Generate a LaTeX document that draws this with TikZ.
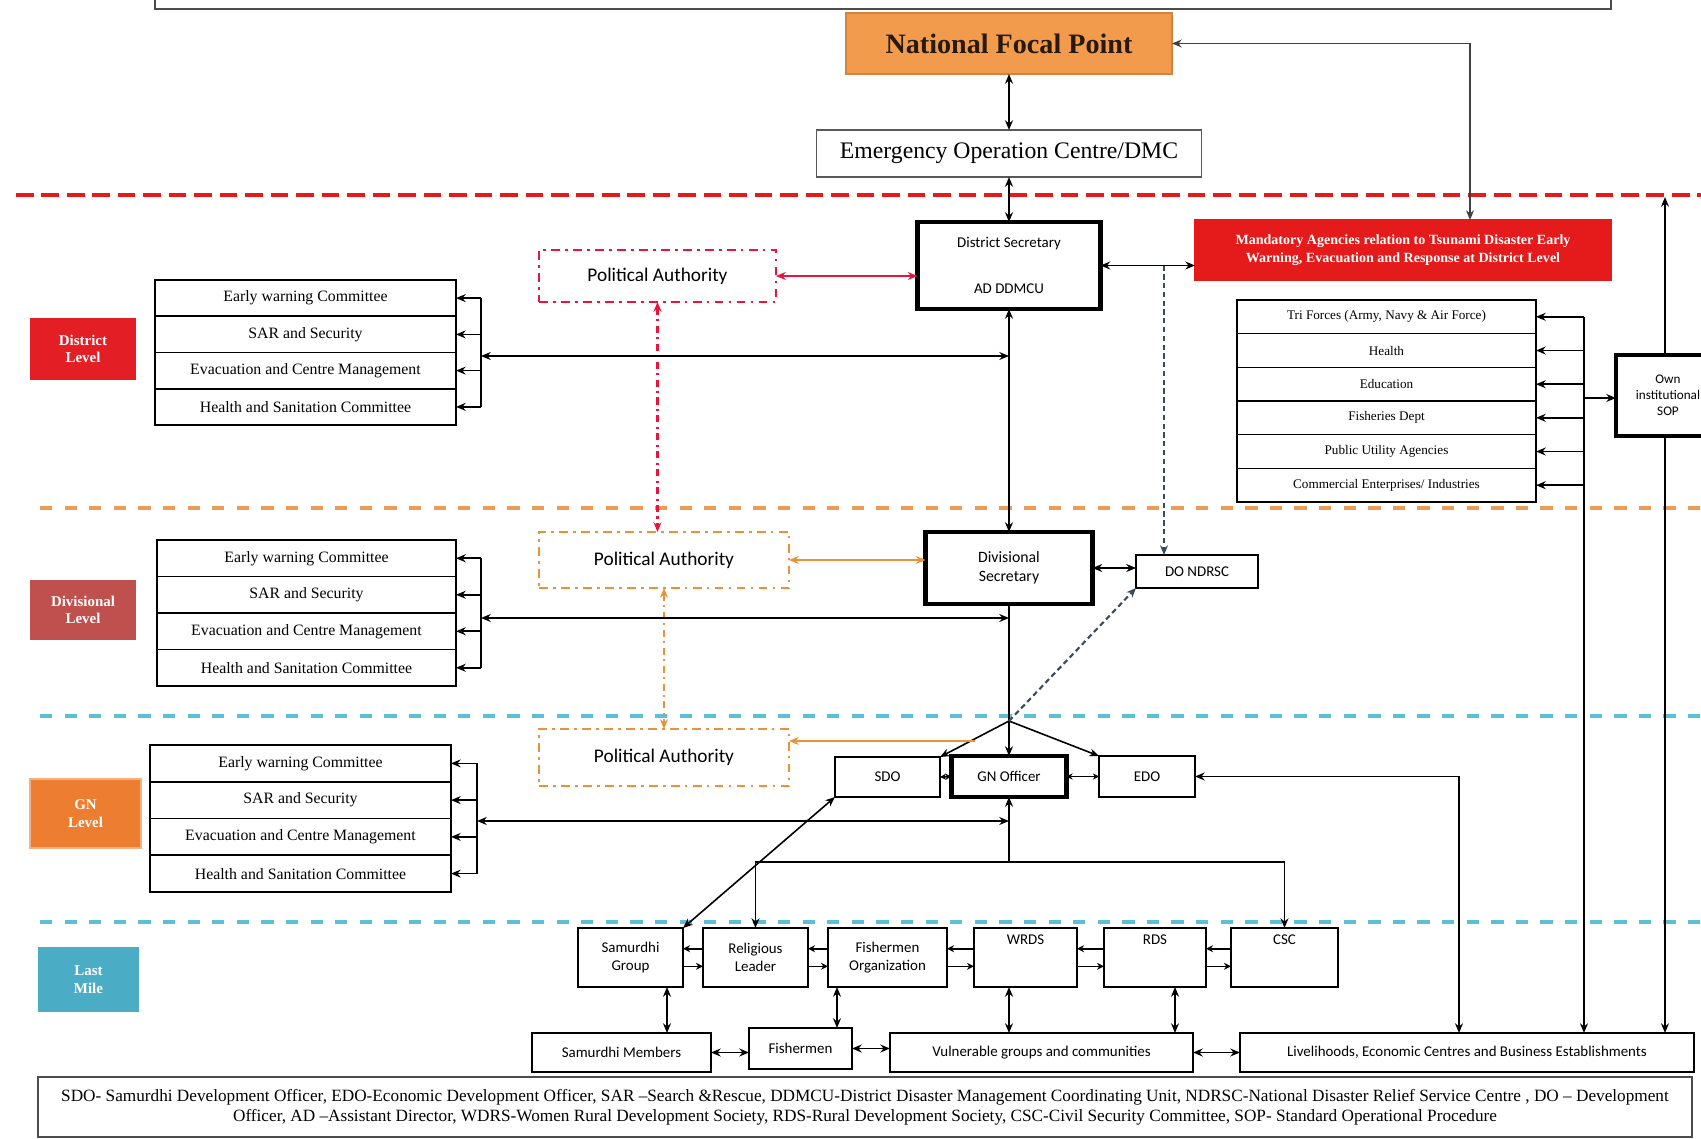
\documentclass[tikz,border=0pt]{standalone}
\usepackage{fontspec}
\setmainfont{Liberation Serif}
\newfontfamily\cf{Carlito}
\usetikzlibrary{arrows.meta,calc}
\definecolor{lred}{HTML}{E51A1A}
\definecolor{pared}{HTML}{E8143C}
\definecolor{paor}{HTML}{E8923A}
\definecolor{orsep}{HTML}{EE9C55}
\definecolor{cysep}{HTML}{5BC0D6}
\definecolor{lvred}{HTML}{E31E24}
\definecolor{lvbrown}{HTML}{C0504D}
\definecolor{lvorange}{HTML}{ED7D31}
\definecolor{lvblue}{HTML}{4BACC6}
\definecolor{nfpor}{HTML}{F39B4C}
\definecolor{dkblue}{HTML}{3A4A5C}
\begin{document}
\begin{tikzpicture}[x=0.02cm,y=-0.02cm,
  >={Stealth[length=5.5pt,width=4.5pt]},
  line width=0.9pt,
  sz/.style 2 args={minimum width=#1*0.02cm,minimum height=#2*0.02cm},
  box/.style={draw,fill=white,inner sep=0pt,outer sep=0pt,align=center,line width=0.9pt},
  thickbox/.style={box,line width=2.4pt},
  comm/.style={box,font=\fontsize{9}{10}\selectfont},
  sect/.style={box,font=\fontsize{7.5}{8}\selectfont},
  lm/.style={box,font=\cf\fontsize{8.5}{10}\selectfont},
  lvl/.style={inner sep=0pt,outer sep=0pt,align=center,text=white,font=\bfseries\fontsize{8.5}{10}\selectfont},
  pabox/.style={inner sep=0pt,outer sep=0pt,align=center,fill=white,line width=1.4pt,dash pattern=on 5pt off 3pt on 1.5pt off 3pt,font=\cf\fontsize{11}{12}\selectfont},
  dashdot/.style={line width=1.3pt,dash pattern=on 4pt off 2.5pt on 1.2pt off 2.5pt},
  small/.style={{Stealth[length=3.5pt,width=3.5pt]}-{Stealth[length=3.5pt,width=3.5pt]}},
  sm1/.style={-{Stealth[length=4pt,width=4pt]}},
]
\useasboundingbox (0,0) rectangle (1701,1139);
\clip (0,0) rectangle (1701,1139);
\fill[white] (0,0) rectangle (1701,1139);

% top frame
\draw[gray!60!black,line width=1pt] (155,-20) rectangle (1611,9);

% separators
\draw[lred,line width=2.8pt,dash pattern=on 10pt off 4.5pt] (16,195) -- (1701,195);
\draw[orsep,line width=1.8pt,dash pattern=on 7pt off 7pt] (40,508) -- (1701,508);
\draw[cysep,line width=1.8pt,dash pattern=on 7pt off 7pt] (40,716) -- (1701,716);
\draw[cysep,line width=1.8pt,dash pattern=on 7pt off 7pt] (40,922) -- (1701,922);

% top nodes
\node[box,sz={326}{61},fill=nfpor,draw=nfpor!85!black,text=black!80!brown,font=\bfseries\fontsize{16}{18}\selectfont] (nfp) at (1009,43.5) {National Focal Point};
\node[box,sz={385}{47},draw=gray!70!black,font=\fontsize{13.5}{15}\selectfont] (eoc) at (1009,153.5) {Emergency Operation Centre/DMC};
\node[thickbox,sz={183}{87},font=\cf\fontsize{8.5}{10}\selectfont] (ds) at (1009,265.5) {District Secretary\\[16pt]AD DDMCU};
\node[box,sz={416}{60},fill=lred,draw=lred,text=white,font=\bfseries\fontsize{8}{10}\selectfont] (mand) at (1403,250) {Mandatory Agencies relation to Tsunami Disaster Early\\Warning, Evacuation and Response at District Level};

% political authorities
\node[pabox,draw=pared,sz={237}{52}] (pa1) at (657.5,276) {Political Authority};
\node[pabox,draw=paor,sz={250}{56}] (pa2) at (664,560) {Political Authority};
\node[pabox,draw=paor,sz={250}{57}] (pa3) at (664,757.5) {Political Authority};

% level labels
\node[lvl,fill=lvred,sz={106}{62}] (ld) at (83,349) {District\\Level};
\node[lvl,fill=lvbrown,sz={106}{60}] (ldv) at (83,610) {Divisional\\Level};
\node[lvl,fill=lvorange,draw=lvorange!60!white,line width=1.5pt,sz={111}{69}] (lgn) at (85.5,813.5) {GN\\Level};
\node[lvl,fill=lvblue,sz={101}{65}] (llm) at (88.5,979.5) {Last\\Mile};

% committees district
\node[comm,sz={301}{36.25}] (dc1) at (305.5,298.1) {Early warning Committee};
\node[comm,sz={301}{36.25}] (dc2) at (305.5,334.4) {SAR and Security};
\node[comm,sz={301}{36.25}] (dc3) at (305.5,370.6) {Evacuation and Centre Management};
\node[comm,sz={301}{36.25}] (dc4) at (305.5,406.9) {Health and Sanitation Committee};
% committees divisional
\node[comm,sz={299}{36.5}] (vc1) at (306.5,558.25) {Early warning Committee};
\node[comm,sz={299}{36.5}] (vc2) at (306.5,594.75) {SAR and Security};
\node[comm,sz={299}{36.5}] (vc3) at (306.5,631.25) {Evacuation and Centre Management};
\node[comm,sz={299}{36.5}] (vc4) at (306.5,667.75) {Health and Sanitation Committee};
% committees GN
\node[comm,sz={301}{36.75}] (gc1) at (300.5,763.4) {Early warning Committee};
\node[comm,sz={301}{36.75}] (gc2) at (300.5,800.1) {SAR and Security};
\node[comm,sz={301}{36.75}] (gc3) at (300.5,836.9) {Evacuation and Centre Management};
\node[comm,sz={301}{36.75}] (gc4) at (300.5,873.6) {Health and Sanitation Committee};

% divisional nodes
\node[thickbox,sz={167}{72},font=\cf\fontsize{9}{11}\selectfont] (divsec) at (1009,568) {Divisional\\Secretary};
\node[box,sz={122}{33},font=\cf\fontsize{8.5}{10}\selectfont] (donrdsc) at (1197,571.5) {DO NDRSC};

% GN nodes
\node[box,sz={105}{40},font=\cf\fontsize{8.5}{10}\selectfont] (sdo) at (887.5,777) {SDO};
\node[thickbox,sz={115}{41},font=\cf\fontsize{8.5}{10}\selectfont] (gn) at (1009,776.5) {GN Officer};
\node[box,sz={96}{41},font=\cf\fontsize{8.5}{10}\selectfont] (edo) at (1147,776.5) {EDO};

% sector nodes
\node[sect,sz={299}{33.67}] (s1) at (1386.5,316.8) {Tri Forces (Army, Navy \& Air Force)};
\node[sect,sz={299}{33.67}] (s2) at (1386.5,350.5) {Health};
\node[sect,sz={299}{33.67}] (s3) at (1386.5,384.2) {Education};
\node[sect,sz={299}{33.67}] (s4) at (1386.5,417.8) {Fisheries Dept};
\node[sect,sz={299}{33.67}] (s5) at (1386.5,451.5) {Public Utility Agencies};
\node[sect,sz={299}{33.67}] (s6) at (1386.5,485.2) {Commercial Enterprises/ Industries};
\node[thickbox,sz={104}{81},font=\cf\fontsize{7.5}{9}\selectfont] (sop) at (1668,395.5) {Own\\institutional\\SOP};

% last mile row
\node[lm,sz={105}{59}] (sg) at (630.5,957.5) {Samurdhi\\Group};
\node[lm,sz={105}{59}] (rl) at (755.5,957.5) {Religious\\Leader};
\node[lm,sz={119}{59}] (fo) at (887.5,957.5) {Fishermen\\Organization};
\node[lm,sz={103}{59}] (wrds) at (1025.5,957.5) {WRDS\\[10pt]};
\node[lm,sz={102}{59}] (rds) at (1155,957.5) {RDS\\[10pt]};
\node[lm,sz={107}{59}] (csc) at (1284.5,957.5) {CSC\\[10pt]};

% bottom row
\node[lm,sz={179}{39}] (sm) at (621.5,1052.5) {Samurdhi Members};
\node[lm,sz={103}{41}] (fi) at (800.5,1048.5) {Fishermen};
\node[lm,sz={303}{39}] (vg) at (1041.5,1052.5) {Vulnerable groups and communities};
\node[lm,sz={454}{39}] (lv) at (1467,1052.5) {Livelihoods, Economic Centres and Business Establishments};

% footer
\node[box,sz={1654}{60},draw=gray!60!black,font=\fontsize{9.8}{11.5}\selectfont] (foot) at (865,1107) {SDO- Samurdhi Development Officer, EDO-Economic Development Officer, SAR --Search \&Rescue, DDMCU-District Disaster Management Coordinating Unit, NDRSC-National Disaster Relief Service Centre , DO -- Development\\Officer, AD --Assistant Director, WDRS-Women Rural Development Society, RDS-Rural Development Society, CSC-Civil Security Committee, SOP- Standard Operational Procedure};

% ---- connectors ----
\coordinate (xN) at (1470,0);
\draw[<->,gray!50!black] (nfp.east) -- (nfp.east -| xN) -- (mand.north -| xN);
\draw[<->] (nfp.south) -- (eoc.north);
\draw[<->] (eoc.south) -- (ds.north);
\draw[<->] (ds.east) -- (ds.east -| mand.west);
\coordinate (xD) at (1164,0);
\draw[->,dkblue,line width=1.2pt,dash pattern=on 3pt off 2pt] (ds.east -| xD) -- (donrdsc.north -| xD);
\draw[<->] (ds.south) -- (divsec.north);
\draw[<->] (divsec.east) -- (divsec.east -| donrdsc.west);

% political authority links
\draw[<->,pared,line width=1.5pt] (pa1.east) -- (pa1.east -| ds.west);
\draw[<->,paor,line width=1.5pt] (pa2.east) -- (pa2.east -| divsec.west);
\draw[<->,pared,dashdot] (pa1.south) -- (pa1.south |- pa2.north);
\draw[<->,paor,dashdot] (pa2.south) -- (pa3.north);

% district committee bracket
\coordinate (bd) at (481,356);
\draw (dc1.east -| bd) -- (dc4.east -| bd);
\foreach \n in {dc1,dc2,dc3,dc4} \draw[->] (\n.east -| bd) -- (\n.east);
\draw[<->] (bd) -- (bd -| ds.south);
% divisional committee bracket
\coordinate (bv) at (481,618);
\draw (vc1.east -| bv) -- (vc4.east -| bv);
\foreach \n in {vc1,vc2,vc3,vc4} \draw[->] (\n.east -| bv) -- (\n.east);
\draw[<->] (bv) -- (bv -| divsec.south);

% junction
\coordinate (j) at (1009,721);
\draw (divsec.south) -- (j);
\draw[->] (j) -- (sdo.north east);
\draw[->] (j) -- (gn.north);
\draw[->] (j) -- (edo.north west);
\draw[->,dkblue,line width=1.2pt,dash pattern=on 3pt off 2pt] (j) -- (donrdsc.south west);
\coordinate (po) at (975,741);
\draw[->,paor,line width=1.5pt] (po) -- (po -| pa3.east);
\draw[small] (sdo.east) -- (gn.west);
\draw[small] (gn.east) -- (edo.west);

% GN committee bracket
\coordinate (bg) at (477,821);
\draw (gc1.east -| bg) -- (gc4.east -| bg);
\foreach \n in {gc1,gc2,gc3,gc4} \draw[->] (\n.east -| bg) -- (\n.east);
\coordinate (h) at (1009,862);
\draw[<->] (bg) -- (bg -| gn.south);
\draw[<-] (gn.south) -- (h);
\draw[->] (h) -| (rl.north);
\draw[->] (h) -| (csc.north);

% EDO to livelihoods
\coordinate (xE) at (1459,0);
\draw[<->] (edo.east) -- (edo.east -| xE) -- (lv.north -| xE);

% SDO to Samurdhi group
\draw[<->] (sdo.south west) -- (sg.north east);

% sectors bracket
\coordinate (bs) at (1584,398);
\draw[->] (s1.east -| bs) -- (lv.north -| bs);
\foreach \n in {s1,s2,s3,s4,s5,s6} \draw[->] (\n.east -| bs) -- (\n.east);
\draw[->] (bs) -- (bs -| sop.west);
\coordinate (xS) at (1665,197);
\draw[->] (sop.north -| xS) -- (xS);
\draw[->] (sop.south -| xS) -- (lv.north -| xS);

% last mile horizontal pairs
\foreach \a/\b in {sg/rl,rl/fo,fo/wrds,wrds/rds,rds/csc}{
  \draw[sm1] ([yshift=5pt]\b.west) -- ([yshift=5pt]\a.east);
  \draw[sm1] ([yshift=-5pt]\a.east) -- ([yshift=-5pt]\b.west);
}
% verticals to bottom row
\coordinate (x1) at (667,0);
\coordinate (x2) at (837,0);
\coordinate (x3) at (1009,0);
\coordinate (x4) at (1175,0);
\draw[<->] (sg.south -| x1) -- (sm.north -| x1);
\draw[<->] (fo.south -| x2) -- (fi.north -| x2);
\draw[<->] (wrds.south -| x3) -- (vg.north -| x3);
\draw[<->] (rds.south -| x4) -- (vg.north -| x4);
% bottom row horizontals
\draw[<->] (sm.east) -- (sm.east -| fi.west);
\draw[<->] (fi.east) -- (fi.east -| vg.west);
\draw[<->] (vg.east) -- (lv.west);
\end{tikzpicture}
\end{document}
